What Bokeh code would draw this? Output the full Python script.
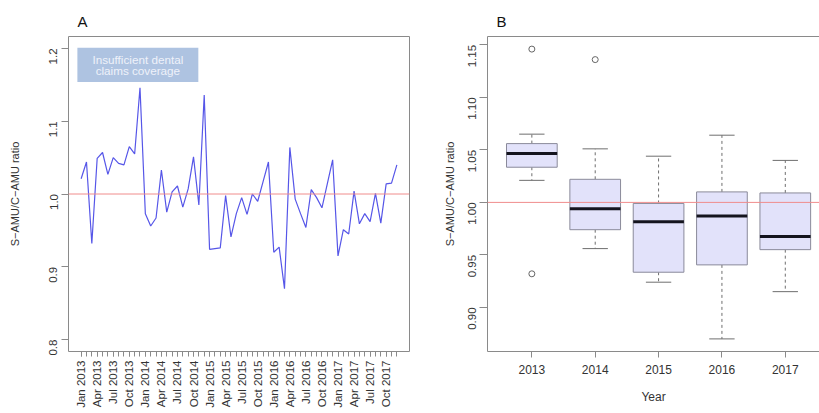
import numpy as np
from bokeh.plotting import figure
from bokeh.models import (Range1d, FixedTicker, Span, Label, LinearAxis, Title,
                          ColumnDataSource, BoxAnnotation, NumeralTickFormatter)
from bokeh.layouts import row
from bokeh.embed import file_html
from bokeh.resources import INLINE

# ---------------- data ----------------
years = [2013, 2014, 2015, 2016, 2017]
year_labels = ["2013", "2014", "2015", "2016", "2017"]

ratio_2013 = [1.021, 1.044, 0.932, 1.049, 1.057, 1.027, 1.050, 1.042, 1.040, 1.065, 1.055, 1.146]
ratio_2014 = [0.973, 0.956, 0.967, 1.033, 0.975, 1.003, 1.011, 0.982, 1.007, 1.051, 0.985, 1.136]
ratio_2015 = [0.924, 0.925, 0.926, 0.998, 0.941, 0.973, 0.995, 0.972, 1.000, 0.990, 1.017, 1.044]
ratio_2016 = [0.920, 0.927, 0.870, 1.064, 0.993, 0.973, 0.954, 1.006, 0.995, 0.981, 1.014, 1.047]
ratio_2017 = [0.915, 0.951, 0.945, 1.004, 0.959, 0.973, 0.962, 1.001, 0.960, 1.014, 1.015, 1.040]

month_tick_labels = ["Jan 2013", "Apr 2013", "Jul 2013", "Oct 2013",
                     "Jan 2014", "Apr 2014", "Jul 2014", "Oct 2014",
                     "Jan 2015", "Apr 2015", "Jul 2015", "Oct 2015",
                     "Jan 2016", "Apr 2016", "Jul 2016", "Oct 2016",
                     "Jan 2017", "Apr 2017", "Jul 2017", "Oct 2017"]

yearly = [ratio_2013, ratio_2014, ratio_2015, ratio_2016, ratio_2017]
monthly = ratio_2013 + ratio_2014 + ratio_2015 + ratio_2016 + ratio_2017
month_idx = list(range(len(monthly)))

# ---------------- styles ----------------
FONT = "Liberation Sans"
TXT = "#333333"
FRAME = "#8a8a8a"
RED = "#f08c8c"
BLUE = "#5656e8"


def style_axis(ax):
    ax.major_label_text_font = FONT
    ax.major_label_text_color = TXT
    ax.axis_label_text_font = FONT
    ax.axis_label_text_color = TXT
    ax.axis_label_text_font_style = "normal"
    ax.major_tick_line_color = FRAME
    ax.minor_tick_line_color = FRAME
    ax.major_tick_in = 0
    ax.minor_tick_in = 0


def panel_title(letter):
    return Title(text=letter, align="left", offset=9, standoff=13,
                 text_font=FONT, text_font_size="15px", text_font_style="normal",
                 text_color="#111111")


# ---------------- panel A ----------------
p1 = figure(width=420, height=413, output_backend="svg", toolbar_location=None,
            x_range=Range1d(-2.36, 61.36), y_range=Range1d(0.7836, 1.2164),
            min_border_left=68, min_border_right=11, min_border_top=35,
            min_border_bottom=62)
p1.title = panel_title("A")
p1.grid.visible = False
p1.outline_line_color = FRAME
p1.background_fill_color = "white"

p1.add_layout(BoxAnnotation(left=-0.7, right=21.9, bottom=1.154, top=1.201,
                            fill_color="#aec3e1", fill_alpha=1.0, line_color=None))
p1.add_layout(Label(x=10.6, y=1.185, text="Insufficient dental", text_align="center",
                    text_baseline="middle", text_font=FONT, text_font_size="11.7px",
                    text_color="#eef2fa"))
p1.add_layout(Label(x=10.6, y=1.169, text="claims coverage", text_align="center",
                    text_baseline="middle", text_font=FONT, text_font_size="11.7px",
                    text_color="#eef2fa"))

p1.line(x=month_idx, y=monthly, line_color=BLUE, line_width=1.2)
p1.add_layout(Span(location=1.0, dimension="width", line_color=RED, line_width=1))

xa = p1.xaxis[0]
xa.ticker = FixedTicker(ticks=list(range(0, 60, 3)), minor_ticks=month_idx)
xa.major_label_overrides = {i * 3: lab for i, lab in enumerate(month_tick_labels)}
xa.major_label_orientation = np.pi / 2
xa.major_tick_out = 5
xa.minor_tick_out = 5
xa.major_label_standoff = 4
xa.axis_line_color = None
style_axis(xa)
xa.major_label_text_font_size = "11.5px"

ya = p1.yaxis[0]
ya.ticker = FixedTicker(ticks=[0.8, 0.9, 1.0, 1.1, 1.2])
ya.formatter = NumeralTickFormatter(format="0.0")
ya.major_label_orientation = np.pi / 2
ya.major_tick_out = 7
ya.major_label_standoff = 8
ya.axis_line_color = None
ya.axis_label = "S\u2212AMU/C\u2212AMU ratio"
ya.axis_label_standoff = 22
style_axis(ya)
ya.major_label_text_font_size = "11.5px"
ya.axis_label_text_font_size = "11px"

# ---------------- panel B ----------------
def fivenum(v):
    s = sorted(v)
    n = len(s)
    n4 = np.floor((n + 3) / 2) / 2
    d = [1, n4, (n + 1) / 2, n + 1 - n4, n]
    return [0.5 * (s[int(np.floor(di)) - 1] + s[int(np.ceil(di)) - 1]) for di in d]


box = dict(x=[], lo=[], hl=[], med=[], hu=[], hi=[])
out_x, out_y = [], []
for k, vals in enumerate(yearly):
    f = fivenum(vals)
    iqr = f[3] - f[1]
    lf, uf = f[1] - 1.5 * iqr, f[3] + 1.5 * iqr
    inside = [v for v in vals if lf <= v <= uf]
    box["x"].append(k + 1)
    box["lo"].append(min(inside))
    box["hl"].append(f[1])
    box["med"].append(f[2])
    box["hu"].append(f[3])
    box["hi"].append(max(inside))
    for v in vals:
        if v < lf or v > uf:
            out_x.append(k + 1)
            out_y.append(v)

bx = np.array(box["x"], dtype=float)
src = ColumnDataSource(dict(x=bx, l=bx - 0.4, r=bx + 0.4, sl=bx - 0.2, sr=bx + 0.2,
                            lo=box["lo"], hl=box["hl"], med=box["med"],
                            hu=box["hu"], hi=box["hi"]))

p2 = figure(width=399, height=413, output_backend="svg", toolbar_location=None,
            x_range=Range1d(0.3, 5.54), y_range=Range1d(0.858, 1.158),
            min_border_left=67, min_border_right=0, min_border_top=36,
            min_border_bottom=60)
p2.title = panel_title("B")
p2.grid.visible = False
p2.outline_line_color = None

WH = "#6e6e6e"
p2.segment(x0="x", y0="hu", x1="x", y1="hi", source=src, line_color=WH, line_dash="3 3", line_width=1)
p2.segment(x0="x", y0="hl", x1="x", y1="lo", source=src, line_color=WH, line_dash="3 3", line_width=1)
p2.segment(x0="sl", y0="hi", x1="sr", y1="hi", source=src, line_color=WH, line_width=1)
p2.segment(x0="sl", y0="lo", x1="sr", y1="lo", source=src, line_color=WH, line_width=1)
p2.quad(left="l", right="r", bottom="hl", top="hu", source=src,
        fill_color="#e2e2fa", line_color="#8a8a9a", line_width=1)
p2.segment(x0="l", y0="med", x1="r", y1="med", source=src, line_color="#14141e", line_width=3)
p2.scatter(x=out_x, y=out_y, marker="circle", size=6, fill_color=None,
           line_color="#666666", line_width=1)
p2.add_layout(Span(location=1.0, dimension="width", line_color=RED, line_width=1))

bxa = p2.xaxis[0]
bxa.ticker = FixedTicker(ticks=[1, 2, 3, 4, 5])
bxa.major_label_overrides = {k + 1: lab for k, lab in enumerate(year_labels)}
bxa.major_tick_out = 6
bxa.major_label_standoff = 7
bxa.axis_line_color = FRAME
bxa.axis_label = "Year"
bxa.axis_label_standoff = 13
style_axis(bxa)
bxa.major_label_text_font_size = "12px"
bxa.axis_label_text_font_size = "12px"

bya = p2.yaxis[0]
bya.ticker = FixedTicker(ticks=[0.90, 0.95, 1.00, 1.05, 1.10, 1.15])
bya.formatter = NumeralTickFormatter(format="0.00")
bya.major_label_orientation = np.pi / 2
bya.major_tick_out = 8
bya.major_label_standoff = 7
bya.axis_line_color = FRAME
bya.axis_label = "S\u2212AMU/C\u2212AMU ratio"
bya.axis_label_standoff = 6
style_axis(bya)
bya.major_label_text_font_size = "11.5px"
bya.axis_label_text_font_size = "11px"

top_ax = LinearAxis(ticker=FixedTicker(ticks=[]), axis_line_color=FRAME,
                    major_label_text_font_size="0px", major_tick_line_color=None,
                    minor_tick_line_color=None)
p2.add_layout(top_ax, "above")

layout = row(p1, p2)
open("out.html", "w").write(file_html(layout, INLINE))
